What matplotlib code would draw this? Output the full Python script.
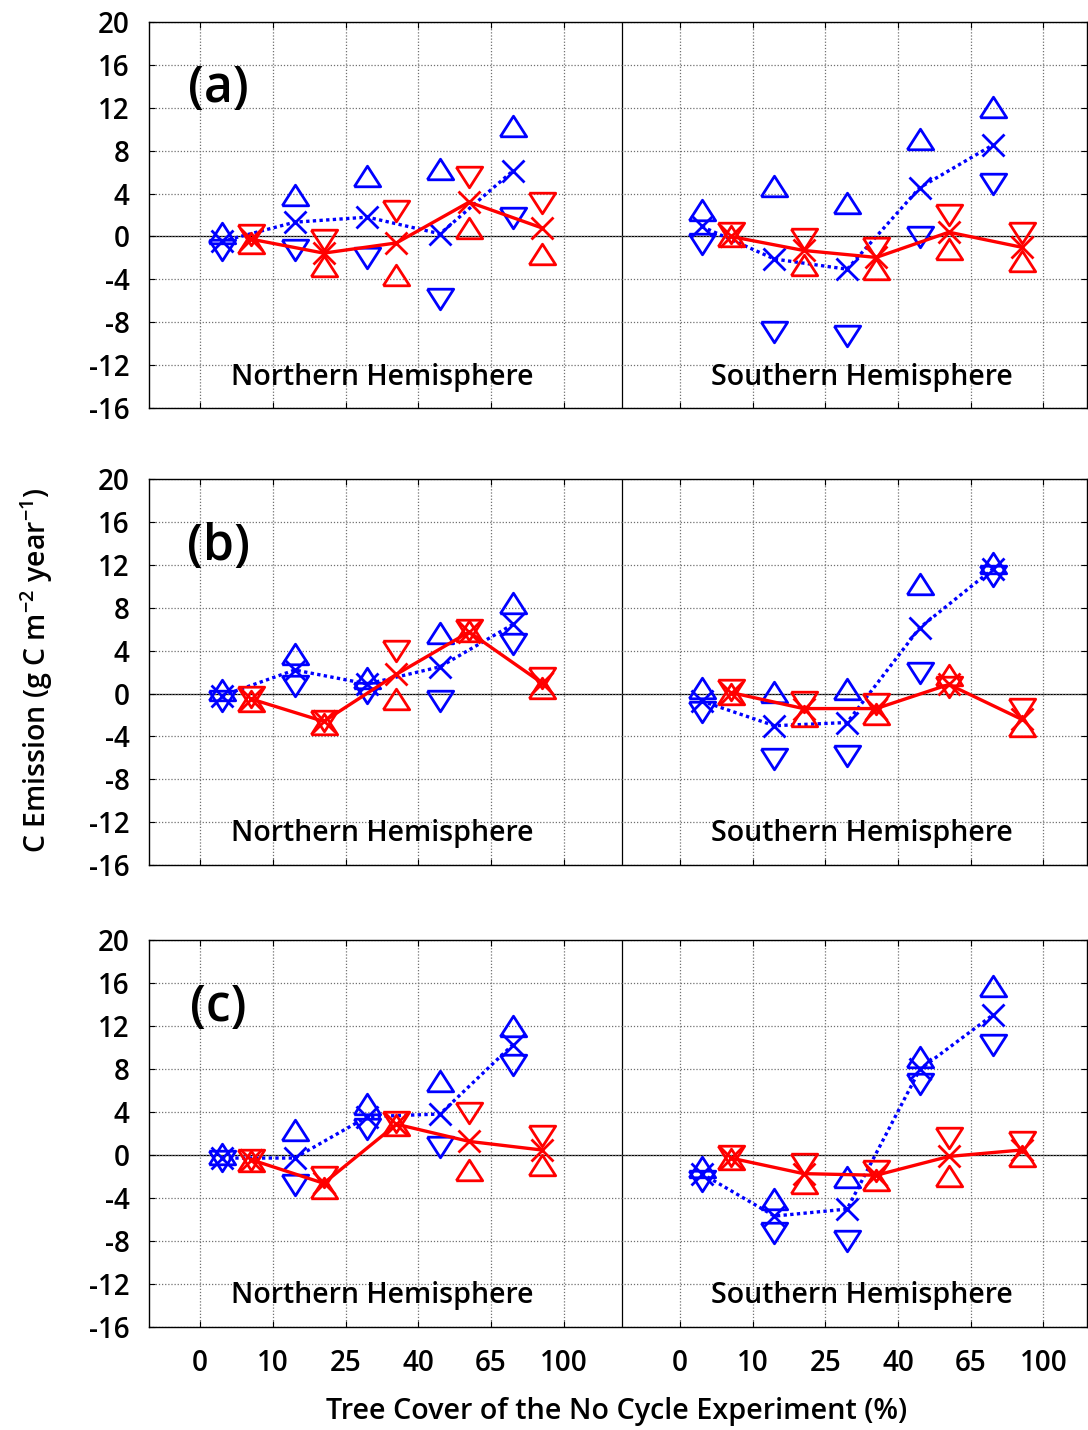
import matplotlib
matplotlib.use("Agg")
import matplotlib.pyplot as plt
import numpy as np

plt.rcParams['font.family'] = ['Open Sans', 'DejaVu Sans']
plt.rcParams['font.weight'] = 'semibold'
plt.rcParams['mathtext.fontset'] = 'custom'
plt.rcParams['mathtext.rm'] = 'Open Sans:semibold'
plt.rcParams['mathtext.default'] = 'regular'

# ---------------- data ----------------
bin_labels = ['0', '10', '25', '40', '65', '100']
panel_tags = ['(a)', '(b)', '(c)']
hemispheres = ['Northern Hemisphere', 'Southern Hemisphere']

# Panel (a)
a_nh_blue_mid = [-0.45, 1.33, 1.8, 0.25, 6.1]
a_nh_blue_up = [0.37, 3.85, 5.6, 6.3, 10.3]
a_nh_blue_dn = [-1.3, -1.27, -2.05, -5.8, 1.7]
a_nh_red_mid = [-0.25, -1.55, -0.6, 3.2, 0.8]
a_nh_red_up = [-0.65, -2.75, -3.6, 0.8, -1.6]
a_nh_red_dn = [0.12, -0.3, 2.4, 5.55, 3.1]

a_sh_blue_mid = [0.93, -2.1, -3.05, 4.55, 8.5]
a_sh_blue_up = [2.5, 4.7, 3.1, 9.1, 12.1]
a_sh_blue_dn = [-0.7, -8.9, -9.3, -0.05, 4.9]
a_sh_red_mid = [0.0, -1.3, -1.95, 0.4, -1.0]
a_sh_red_up = [0.03, -2.7, -3.0, -1.2, -2.3]
a_sh_red_dn = [0.28, -0.2, -1.1, 2.0, 0.35]

# Panel (b)
b_nh_blue_mid = [-0.2, 2.2, 0.9, 2.5, 6.45]
b_nh_blue_up = [0.3, 3.65, 1.45, 5.65, 8.45]
b_nh_blue_dn = [-0.7, 0.75, 0.1, -0.65, 4.6]
b_nh_red_mid = [-0.5, -2.6, 1.8, 5.75, 1.0]
b_nh_red_up = [-0.65, -2.8, -0.5, 5.85, 0.5]
b_nh_red_dn = [-0.35, -2.6, 4.0, 5.95, 1.5]

b_sh_blue_mid = [-0.7, -3.0, -2.7, 6.15, 11.6]
b_sh_blue_up = [0.5, 0.15, 0.45, 10.2, 12.2]
b_sh_blue_dn = [-1.75, -6.1, -5.85, 1.9, 11.0]
b_sh_red_mid = [0.1, -1.4, -1.4, 0.85, -2.4]
b_sh_red_up = [0.0, -2.05, -1.95, 1.7, -3.05]
b_sh_red_dn = [0.3, -0.8, -0.95, 0.6, -1.4]

# Panel (c)
c_nh_blue_mid = [-0.3, -0.3, 3.55, 3.8, 10.25]
c_nh_blue_up = [0.1, 2.3, 4.75, 6.85, 12.0]
c_nh_blue_dn = [-0.55, -2.8, 2.4, 0.7, 8.35]
c_nh_red_mid = [-0.45, -2.65, 2.85, 1.25, 0.45]
c_nh_red_up = [-0.6, -3.05, 2.75, -1.4, -0.95]
c_nh_red_dn = [-0.5, -2.1, 3.05, 3.9, 1.75]

c_sh_blue_mid = [-1.75, -5.7, -5.05, 7.95, 13.0]
c_sh_blue_up = [-1.1, -4.15, -2.1, 9.1, 15.7]
c_sh_blue_dn = [-2.4, -7.3, -8.0, 6.6, 10.2]
c_sh_red_mid = [-0.3, -1.75, -1.9, -0.15, 0.45]
c_sh_red_up = [-0.35, -2.6, -2.35, -2.0, -0.1]
c_sh_red_dn = [-0.1, -0.85, -1.5, 1.6, 1.2]

panels = [
    [(a_nh_blue_mid, a_nh_blue_up, a_nh_blue_dn, a_nh_red_mid, a_nh_red_up, a_nh_red_dn),
     (a_sh_blue_mid, a_sh_blue_up, a_sh_blue_dn, a_sh_red_mid, a_sh_red_up, a_sh_red_dn)],
    [(b_nh_blue_mid, b_nh_blue_up, b_nh_blue_dn, b_nh_red_mid, b_nh_red_up, b_nh_red_dn),
     (b_sh_blue_mid, b_sh_blue_up, b_sh_blue_dn, b_sh_red_mid, b_sh_red_up, b_sh_red_dn)],
    [(c_nh_blue_mid, c_nh_blue_up, c_nh_blue_dn, c_nh_red_mid, c_nh_red_up, c_nh_red_dn),
     (c_sh_blue_mid, c_sh_blue_up, c_sh_blue_dn, c_sh_red_mid, c_sh_red_up, c_sh_red_dn)],
]

# ---------------- layout ----------------
W, H = 1088, 1430
fig = plt.figure(figsize=(W / 100, H / 100), dpi=100)

# panel boxes in pixels (top, bottom)
boxes = [(21.7, 408.3), (479.3, 865.0), (940.0, 1326.7)]
left_px, right_px = 149.3, 1087.0

half_offset = 6.6
divider = 5.8
xlo, xhi = -0.7, 12.2

tri_up = [(-1.0, -0.78), (1.0, -0.78), (0.0, 0.78), (-1.0, -0.78)]
tri_dn = [(-1.0, 0.78), (1.0, 0.78), (0.0, -0.78), (-1.0, 0.78)]
tri_ms = 19
x_ms = 16.5
mew = 2.0

blue = (0, 0, 1)
red = (1, 0, 0)

ticks = list(np.arange(6)) + list(np.arange(6) + half_offset)
yt = np.arange(-16, 21, 4)

for p, (top, bot) in enumerate(boxes):
    ax = fig.add_axes([left_px / W, 1 - bot / H, (right_px - left_px) / W, (bot - top) / H])
    ax.set_xlim(xlo, xhi)
    ax.set_ylim(-16, 20)
    ax.set_xticks(ticks)
    ax.set_yticks(yt)
    ax.set_yticklabels([str(v) for v in yt])
    if p == 2:
        ax.set_xticklabels(bin_labels + bin_labels)
    else:
        ax.set_xticklabels([])
    ax.grid(True, color='#707070', linestyle=(0, (1, 1.5)), linewidth=0.9)
    ax.tick_params(direction='in', length=4, width=0.8, labelsize=20,
                   top=True, right=True, colors='black')
    ax.tick_params(axis='y', pad=14)
    ax.tick_params(axis='x', pad=16)
    for s in ax.spines.values():
        s.set_linewidth(1.0)
    ax.axhline(0, color='black', linewidth=0.9, zorder=1.5)
    ax.axvline(divider, color='black', linewidth=0.9, zorder=1.5)

    for h, series in enumerate(panels[p]):
        bmid, bup, bdn, rmid, rup, rdn = series
        base = np.arange(len(bmid)) + h * half_offset
        xb = base + 0.3
        xr = base + 0.7
        ax.plot(xb, bmid, color=blue, linestyle=(0, (1, 1)), linewidth=2.4,
                marker='x', markersize=x_ms, markeredgewidth=mew, zorder=3)
        ax.plot(xb, bup, linestyle='none', marker=tri_up, markersize=tri_ms,
                markerfacecolor='none', markeredgecolor=blue, markeredgewidth=mew, zorder=3)
        ax.plot(xb, bdn, linestyle='none', marker=tri_dn, markersize=tri_ms,
                markerfacecolor='none', markeredgecolor=blue, markeredgewidth=mew, zorder=3)
        ax.plot(xr, rmid, color=red, linestyle='-', linewidth=2.4,
                marker='x', markersize=x_ms, markeredgewidth=mew, zorder=4)
        ax.plot(xr, rup, linestyle='none', marker=tri_up, markersize=tri_ms,
                markerfacecolor='none', markeredgecolor=red, markeredgewidth=mew, zorder=4)
        ax.plot(xr, rdn, linestyle='none', marker=tri_dn, markersize=tri_ms,
                markerfacecolor='none', markeredgecolor=red, markeredgewidth=mew, zorder=4)
        ax.text(2.5 + h * half_offset, -13.1, hemispheres[h], ha='center', va='center',
                fontsize=20.5, zorder=5)

    ax.text(0.25, 13.7, panel_tags[p], ha='center', va='center', fontsize=36, zorder=5)

fig.text(37 / W, 1 - 670 / H, 'C Emission (g C m$^{-2}$ year$^{-1}$)', rotation=90,
         ha='center', va='center', fontsize=20.5)
fig.text(617 / W, 1 - 1411 / H, 'Tree Cover of the No Cycle Experiment (%)',
         ha='center', va='center', fontsize=20.7)

fig.savefig('out.png', dpi=100)
